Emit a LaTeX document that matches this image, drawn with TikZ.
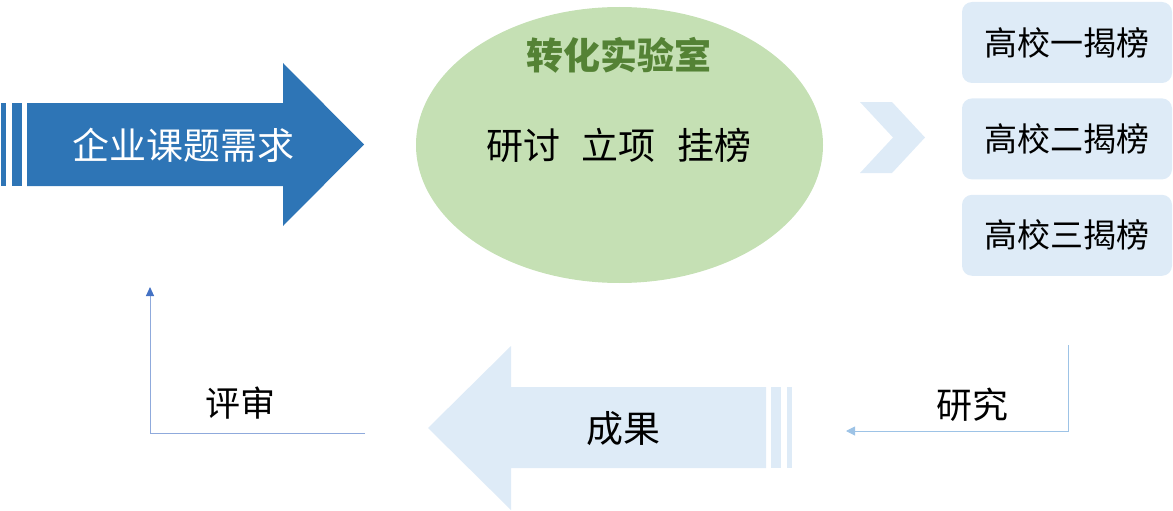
\documentclass[tikz,border=0pt]{standalone}
\usepackage{fontspec}
\setmainfont{Noto Sans CJK SC}
\usetikzlibrary{arrows.meta, positioning, shapes.geometric}
\definecolor{demandblue}{HTML}{2E75B6}
\definecolor{paleblue}{HTML}{DEEBF7}
\definecolor{labgreen}{HTML}{C5E0B4}
\definecolor{titlegreen}{HTML}{548235}
\definecolor{researchblue}{HTML}{9DC3E6}
\definecolor{reviewblue}{HTML}{8FAADC}
\definecolor{reviewtip}{HTML}{4472C4}

\begin{document}
\begin{tikzpicture}[
        x=1pt, y=-1pt,
        school/.style={rectangle, rounded corners=10pt, fill=paleblue, minimum width=210pt, minimum height=81pt, inner sep=0pt, font=\fontsize{33}{36}\selectfont},
        tagtext/.style={font=\fontsize{36}{40}\selectfont},
        flowline/.style={line width=1pt},
        every node/.style={align=center}
    ]
    \useasboundingbox (0,0) rectangle (1173,511);

    % enterprise demand arrow
    \fill[demandblue] (1,103) rectangle (6,186);
    \fill[demandblue] (12,103) rectangle (22,186);
    \fill[demandblue] (27,103) -- (283,103) -- (283,63) -- (364,144.5) -- (283,226) -- (283,186) -- (27,186) -- cycle;
    \node[tagtext, text=white, font=\fontsize{37}{40}\selectfont] (demand) at (183,145) {企业课题需求};

    % lab ellipse
    \node[ellipse, fill=labgreen, minimum width=407pt, minimum height=276pt, inner sep=0pt] (lab) at (619.5,145) {};
    \node[text=titlegreen, font=\fontsize{37}{40}\selectfont\bfseries] (labtitle) at (619,55) {转化实验室};
    \node[font=\fontsize{37}{40}\selectfont] (tasks) at (619,145) {研讨\hspace{22pt}立项\hspace{22pt}挂榜};

    % chevron
    \fill[paleblue] (860,102) -- (892,102) -- (925,137.5) -- (892,173) -- (860,173) -- (893,137.5) -- cycle;

    % universities
    \node[school] (school1) at (1067,42.5) {高校一揭榜};
    \node[school, below=15pt of school1] (school2) {高校二揭榜};
    \node[school, below=15pt of school2] (school3) {高校三揭榜};

    % results arrow
    \fill[paleblue] (771,387) rectangle (781,468);
    \fill[paleblue] (787,387) rectangle (792,468);
    \fill[paleblue] (766,387) -- (511,387) -- (511,346) -- (428,428) -- (511,510) -- (511,468) -- (766,468) -- cycle;
    \node[tagtext, font=\fontsize{37}{40}\selectfont] (result) at (623,429) {成果};

    % research
    \coordinate (researchtop) at (1068,345);
    \coordinate (researchend) at (846,431);
    \draw[flowline, researchblue, -{Triangle[length=9pt,width=9pt]}] (researchtop) |- (researchend);
    \node[tagtext] (research) at (972,405) {研究};

    % review
    \coordinate (reviewstart) at (365,433);
    \coordinate (reviewend) at (150,287);
    \draw[flowline, reviewblue, -{Triangle[length=9pt,width=8pt,color=reviewtip]}] (reviewstart) -| (reviewend);
    \node[tagtext, font=\fontsize{35}{40}\selectfont] (review) at (240,403) {评审};
\end{tikzpicture}
\end{document}
